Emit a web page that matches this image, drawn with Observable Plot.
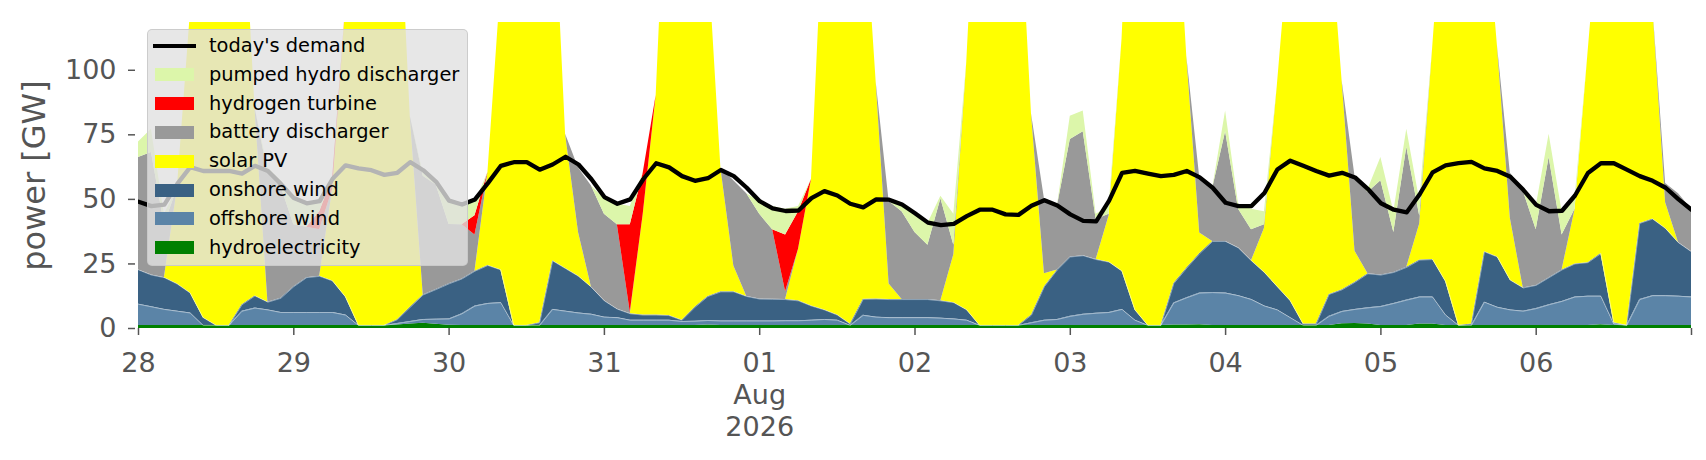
<!DOCTYPE html>
<html>
<head>
<meta charset="utf-8">
<script src="https://cdn.jsdelivr.net/npm/d3@7"></script>
<script src="https://cdn.jsdelivr.net/npm/@observablehq/plot@0.6"></script>
<style>
  body { margin: 0; background: #fff; font-family: "DejaVu Sans", sans-serif; }
  #wrap { position: relative; width: 1706px; height: 460px; }
  #legend { position: absolute; left: 147px; top: 29px; width: 321px; height: 237px;
    background: rgba(225,225,225,0.8); border: 1px solid rgba(200,200,200,0.85);
    border-radius: 5px; box-sizing: border-box; }
  .sw { position: absolute; }
  .lt { position: absolute; left: 61px; font-size: 19.4px; line-height: 22px; color: #000; white-space: nowrap; }
</style>
</head>
<body>
<div id="wrap"><div id="legend"></div></div>
<script>
// 2-hourly values, 28 Jul 2026 00:00 .. 07 Aug 2026 00:00 (GW); one row per day (00,02,...,22h)
const hydro = [
  1.2,1.2,1.2,1.2,1.2,1.2,1.2,1.2,1.2,1.2,1.2,1.2,
  1.2,1.2,1.2,1.2,1.2,1.2,1.2,1.2,1.4,1.7,2,1.6,
  1.3,1.2,1.2,1.2,1.2,1.2,1.2,1.2,1.2,1.2,1.2,1.2,
  1.2,1.2,1.2,1.2,1.2,1.2,1.2,1.2,1.4,1.2,1.2,1.2,
  1.2,1.2,1.2,1.2,1.2,1.2,1.2,1.2,1.2,1.2,1.2,1.2,
  1.2,1.2,1.2,1.2,1.2,1.2,1.2,1.2,1.2,1.2,1.2,1.2,
  1.2,1.2,1.2,1.2,1.2,1.2,1.2,1.2,1.4,1.4,1.5,1.2,
  1.2,1.2,1.2,1.2,1.2,1.2,1.2,1.2,1.2,1.8,1.9,1.7,
  1.2,1.2,1.2,1.7,1.7,1.2,1.2,1.2,1.2,1.2,1.2,1.2,
  1.2,1.2,1.2,1.2,1.2,1.5,1.2,1.2,1.2,1.2,1.2,1.2,
  1.2];
const offshore = [
  8.2,7.2,6.2,5.5,4.8,0,0,0,5.5,6.7,6,5,
  5,5,5,5,4,0,0,0,0.5,1,1.5,2,
  2.4,4.5,7.5,8.5,8.8,0,0,0,6.2,5.5,4.8,4.3,
  3.2,3,2,2,2,2,1.5,1.6,1.7,1.7,1.7,1.7,
  1.7,1.7,1.8,1.8,2,2.3,2,0,3.9,3.2,3,3,
  3,3,2.8,2.5,2,0,0,0,0,1,2,2.3,
  3.5,4.3,4.7,5,6.2,2,0,0,8.5,10.5,12.2,12.7,
  12.5,11.5,10,7.5,6,3,0,0,3.5,4.8,5.5,6.3,
  7.3,8.5,9.8,10.5,10.5,4,0,0,9,7,6,5.5,
  6.5,8,9.3,11,11.3,11,0.5,0,10,11.5,11.5,11.3,
  11];
const onshore = [
  13.3,12.3,12.3,10.5,7.7,3,0,0,2.5,4.7,3,5.5,
  10,13.5,14,12.2,7,0,0,0,1.5,5.5,9.5,11.5,
  13.6,13.5,13.5,14.7,12.7,0,0,1,18.8,16.5,14.2,10.5,
  6.3,3.3,2.5,2,2,1.8,0.5,5.4,9.3,11.3,11.3,9.5,
  8.5,8.4,8.2,7.7,5.5,3.7,2,0.5,6.2,7,7,7,
  7,7,6.7,6.3,4,0,0,0,0,3,13,19.2,
  23,22.7,20.8,19.5,14.8,4,0,0,7.5,11.5,15.3,19.8,
  20,18.5,15,13,9,6.5,0.5,0.5,8.5,8.4,10.5,13.2,
  12.2,12,12.7,14.3,14.5,13,0,0.5,19.5,19.5,11.5,9,
  9,10.5,12.2,12.8,13,16.5,0.5,0,29.5,29.7,26,20.7,
  17.5];
const solar = [
  0,0,0,37,108,200,240,240,170,73,0,0,
  0,0,0,35.4,112,200,240,230,183,74,0,0,
  0,0,0,36,110,210,250,230,156,52,17,0,
  0,0,0,39,85,197,240,230,134,48,10,0,
  0,0,0,20,49,160,240,240,160,84,6,0,
  0,0,0,18.6,96,200,250,250,177,78,5,0,
  0,0,0,18,90,220,250,240,172,82,8,0,
  0,0,0,17,78,143,230,240,148,81,12,0,
  0,0,0,14,82,160,240,250,140,82,24,0,
  0,0,0,21,81,137,230,250,210,83,10,0,
  0];
const battery = [
  43.5,47.5,20.5,0,0,0,0,0,0,0,50,43.5,
  24,19.5,18,0,0,0,0,0,0,0,46,40.5,
  23,21,14,0,0,0,0,0,0,0,25,39.2,
  33.5,32.7,0.5,0,0,0,0,0,0,0,33,39.8,
  32.8,26.9,3,0,0,0,0,0,0,0,32,34,
  26,21,39.5,3.6,0,0,0,0,0,0,29,24.5,
  45.5,48,15.5,0.5,0,0,0,0,0,0,21.5,20.5,
  42.5,15,12,1.5,0,0,0,0,0,0,29,31.5,
  36.5,15.5,46.5,3,0,0,0,0,0,0,17.5,37.5,
  21.5,46.5,13.5,0.2,0,0,0,0,0,0,7.5,19,
  16.5];
const hydrogen = [
  0,0,0,0,0,0,0,0,0,0,0,0,
  0,0,7,4.4,0,0,0,0,0,0,0,0,
  0,0,7.5,0,0,0,0,0,0,0,0,0,
  0,0,34,16,0,0,0,0,0,0,0,0,
  0,0,22,14.5,0,0,0,0,0,0,0,0,
  0,0,0,0,0,0,0,0,0,0,0,0,
  0,0,0,0,0,0,0,0,0,0,0,0,
  0,0,0,0,0,0,0,0,0,0,0,0,
  0,0,0,0,0,0,0,0,0,0,0,0,
  0,0,0,0,0,0,0,0,0,0,0,0,
  0];
const pumped = [
  6,9,4,0,0,0,0,0,0,0,2,2,
  10,9,3,0,0,0,0,0,0,0,1,1,
  9,8,5,0,0,0,0,0,0,0,0,0,
  6,8,7,0,0,0,0,0,0,0,0,0,
  5,9,10,2,0,0,0,0,0,0,0,3,
  8,8.5,1,12,0,0,0,0,0,0,0,0,
  9,8,2,3,0,0,0,0,0,0,0,0,
  8,2,8,5,0,0,0,0,0,0,0,1,
  9,8,7,6,0,0,0,0,0,0,0,0.5,
  9,9,9,4,0,0,0,0,0,0,0,0,
  0];
const demand = [
  49.1,47.4,48,56,62.5,61,61,61,60,63,61,56,
  50.5,48.5,49.3,58,63.2,62,61.3,59.5,60.3,64.4,61.3,56.8,
  49.5,48,50,56.3,63,64.4,64.4,61.5,63.5,66.5,63.5,57.8,
  50.9,48.3,50,57.8,64,62.4,59,57.2,58.2,61.4,59,54.5,
  49.3,46.5,45.5,45.7,50.5,53.2,51.5,48.3,46.9,50,49.9,48,
  44.6,41,40,40.5,43.5,46,46,44.2,44,47.5,49.7,47.6,
  44.2,41.7,41.5,49.5,60.3,61,60,59,59.5,61,58.5,54.5,
  48.7,47.4,47.4,52.5,61.6,65,63,61,59.2,60.3,58.5,54,
  48.5,46,45,52,60.5,63.2,64,64.5,62,61,58.8,53.7,
  47.9,45.4,45.6,51.5,60.2,64,64,61.5,59,57.2,54.5,50,
  46];

const seriesNames = ["hydroelectricity","offshore wind","onshore wind","solar PV",
  "battery discharger","hydrogen turbine","pumped hydro discharger"];
const seriesColors = ["#008000","#5b84a7","#3a6183","#ffff00","#999999","#ff0000","#dcf6aa"];
const tickLabels = ["28","29","30","31","01\nAug\n2026","02","03","04","05","06",""];
const yTicks = [0,25,50,75,100];

const start = Date.UTC(2026, 6, 28);
const stepMs = 2 * 3600e3;
const dates = demand.map((_, i) => new Date(start + i * stepMs));
const seriesValues = [hydro, offshore, onshore, solar, battery, hydrogen, pumped];
const rows = seriesNames.flatMap((name, k) =>
  seriesValues[k].map((v, i) => ({date: dates[i], series: name, value: v})));
const demandRows = demand.map((v, i) => ({date: dates[i], value: v}));
const tickDates = tickLabels.map((_, i) => new Date(start + i * 86400e3));
const tickRows = tickDates.map((d, i) => ({date: d, label: tickLabels[i]}));
const windSet = new Set(["offshore wind", "onshore wind"]);

const chart = Plot.plot({
  width: 1706, height: 460,
  marginLeft: 138, marginRight: 15, marginTop: 22, marginBottom: 132,
  style: {fontFamily: "DejaVu Sans", background: "#fff"},
  x: {type: "utc", domain: [dates[0], dates[dates.length - 1]]},
  y: {domain: [0, 118.5]},
  color: {domain: seriesNames, range: seriesColors},
  opacity: {domain: [0, 1], range: [0, 1]},
  marks: [
    Plot.areaY(rows, Plot.stackY({x: "date", y: "value", z: "series", fill: "series",
      order: seriesNames, clip: true})),
    Plot.lineY(rows, Plot.stackY2({x: "date", y: "value", z: "series", order: seriesNames,
      stroke: "white", strokeWidth: 0.8,
      strokeOpacity: d => windSet.has(d.series) ? 0.55 : 0, clip: true})),
    Plot.lineY(demandRows, {x: "date", y: "value", stroke: "black", strokeWidth: 4.3, clip: true}),
    Plot.axisY({ticks: yTicks, tickSize: 7, tickPadding: 12, dx: -3, fontSize: 27,
      color: "#555", strokeWidth: 1.5, label: null, tickFormat: d3.format("d")}),
    Plot.axisX({ticks: tickDates, tickSize: 7, tickFormat: () => "", color: "#555",
      strokeWidth: 1.5, label: null}),
    Plot.text(tickRows, {x: "date", text: "label", frameAnchor: "bottom", lineAnchor: "top",
      dy: 20, fontSize: 27, lineHeight: 1.2, fill: "#555"}),
    Plot.text(["power [GW]"], {frameAnchor: "left", textAnchor: "middle", lineAnchor: "middle",
      rotate: -90, dx: -104, fontSize: 32, fill: "#555"})
  ]
});
document.getElementById("wrap").prepend(chart);

// legend
const legend = document.getElementById("legend");
const entries = [{name: "today's demand", line: true}].concat(
  seriesNames.map((n, k) => ({name: n, color: seriesColors[k]})).reverse());
entries.forEach((e, k) => {
  const cy = 16 + 28.8 * k;
  const sw = document.createElement("div");
  sw.className = "sw";
  if (e.line) {
    Object.assign(sw.style, {left: "5px", width: "43px", height: "4px", top: (cy - 2) + "px", background: "#000"});
  } else {
    Object.assign(sw.style, {left: "7px", width: "39px", height: "13px", top: (cy - 6.5) + "px", background: e.color});
  }
  legend.appendChild(sw);
  const t = document.createElement("div");
  t.className = "lt";
  t.style.top = (cy - 11) + "px";
  t.textContent = e.name;
  legend.appendChild(t);
});
</script>
</body>
</html>
